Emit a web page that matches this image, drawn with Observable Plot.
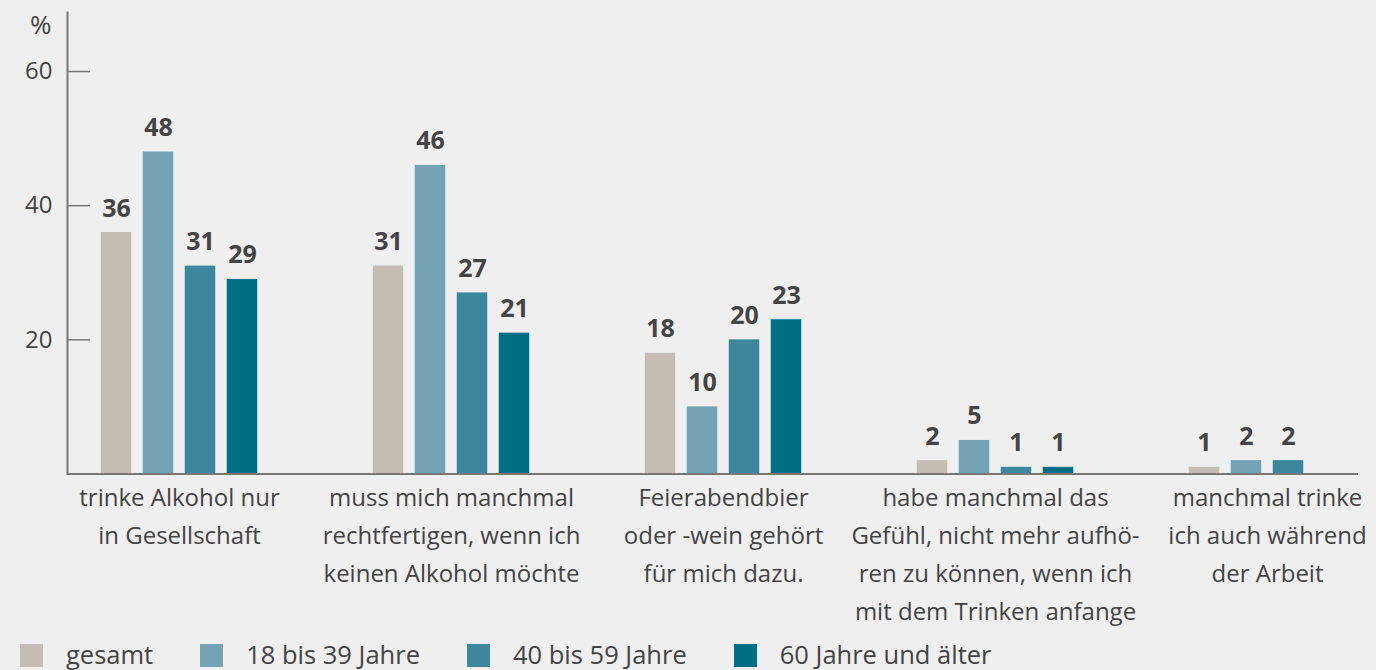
<!DOCTYPE html>
<html>
<head>
<meta charset="utf-8">
<script src="https://cdn.jsdelivr.net/npm/d3@7"></script>
<script src="https://cdn.jsdelivr.net/npm/@observablehq/plot@0.6"></script>
<style>
  html, body { margin: 0; padding: 0; background: #efefef; }
  body { width: 1376px; height: 670px; overflow: hidden; font-family: "Open Sans", sans-serif; color: #444; }
  #legend { display: flex; align-items: center; height: 38px; padding-left: 20px; padding-top: 4px; font-size: 25.5px; line-height: 1; }
  .item { display: flex; align-items: center; margin-right: 47px; }
  .sw { width: 23px; height: 23px; margin-right: 23px; }
</style>
</head>
<body>
<div id="chart"></div>
<div id="legend"></div>
<script>
const categories = [
  "trinke Alkohol nur\nin Gesellschaft",
  "muss mich manchmal\nrechtfertigen, wenn ich\nkeinen Alkohol möchte",
  "Feierabendbier\noder -wein gehört\nfür mich dazu.",
  "habe manchmal das\nGefühl, nicht mehr aufhö-\nren zu können, wenn ich\nmit dem Trinken anfange",
  "manchmal trinke\nich auch während\nder Arbeit"
];
const series = ["gesamt", "18 bis 39 Jahre", "40 bis 59 Jahre", "60 Jahre und älter"];
const colors = ["#c5bdb4", "#74a3b3", "#3e889d", "#006f85"];
const gesamt = [36, 31, 18, 2, 1];
const age18to39 = [48, 46, 10, 5, 2];
const age40to59 = [31, 27, 20, 1, 2];
const age60plus = [29, 21, 23, 1, null];
const yTicks = [20, 40, 60];

const seriesValues = [gesamt, age18to39, age40to59, age60plus];
const rows = [];
series.forEach((s, i) => categories.forEach((c, j) => {
  const v = seriesValues[i][j];
  if (v != null) rows.push({cat: c, series: s, si: i, value: v});
}));

const BAND = 272.5, BAR = 31, STEP = 42;
const firstOffset = BAND / 2 - (STEP * 3 + BAR) / 2; // inset of first bar within band

const barMarks = [];
const labelMarks = [];
series.forEach((s, i) => {
  const d = rows.filter(r => r.si === i);
  const insetLeft = firstOffset + STEP * i;
  barMarks.push(Plot.barY(d, {
    x: "cat", y: "value", fill: colors[i],
    insetLeft, insetRight: BAND - insetLeft - BAR
  }));
  labelMarks.push(Plot.text(d, {
    x: "cat", y: "value", text: r => String(r.value),
    dx: insetLeft + BAR / 2 - BAND / 2, dy: -16, lineAnchor: "bottom",
    fontWeight: "bold", fontSize: 25, fill: "#444"
  }));
});

const marginLeft = 67, marginRight = 18;
const chart = Plot.plot({
  width: 1376, height: 632,
  marginLeft, marginRight, marginTop: 12, marginBottom: 158.5,
  style: {background: "transparent", fontFamily: "'Open Sans', sans-serif", fontSize: "24px", color: "#444"},
  x: {domain: categories, range: [178 - BAND / 2, 178 + BAND * 4.5], padding: 0},
  y: {domain: [0, 68.8]},
  marks: [
    ...barMarks,
    ...labelMarks,
    Plot.ruleY([0], {stroke: "#777", strokeWidth: 2}),
    Plot.frame({anchor: "left", stroke: "#777", strokeWidth: 2}),
    Plot.ruleY(yTicks, {stroke: "#777", strokeWidth: 1.5, insetRight: (1376 - marginLeft - marginRight) - 23}),
    Plot.axisY({ticks: yTicks, tickSize: 0, tickPadding: 15, label: null, fontSize: 24, fill: "#444"}),
    Plot.axisX({tickSize: 0, tickPadding: 5, label: null, fontSize: 24, lineHeight: 1.58, fill: "#444"}),
    Plot.text(["%"], {text: d => d, frameAnchor: "top-left", dx: -16, dy: 13, textAnchor: "end", lineAnchor: "middle", fontSize: 26, fill: "#444"})
  ]
});
document.getElementById("chart").appendChild(chart);

const legend = document.getElementById("legend");
series.forEach((s, i) => {
  const item = document.createElement("div");
  item.className = "item";
  const sw = document.createElement("div");
  sw.className = "sw";
  sw.style.background = colors[i];
  const t = document.createElement("span");
  t.textContent = s;
  item.appendChild(sw);
  item.appendChild(t);
  legend.appendChild(item);
});
</script>
</body>
</html>
